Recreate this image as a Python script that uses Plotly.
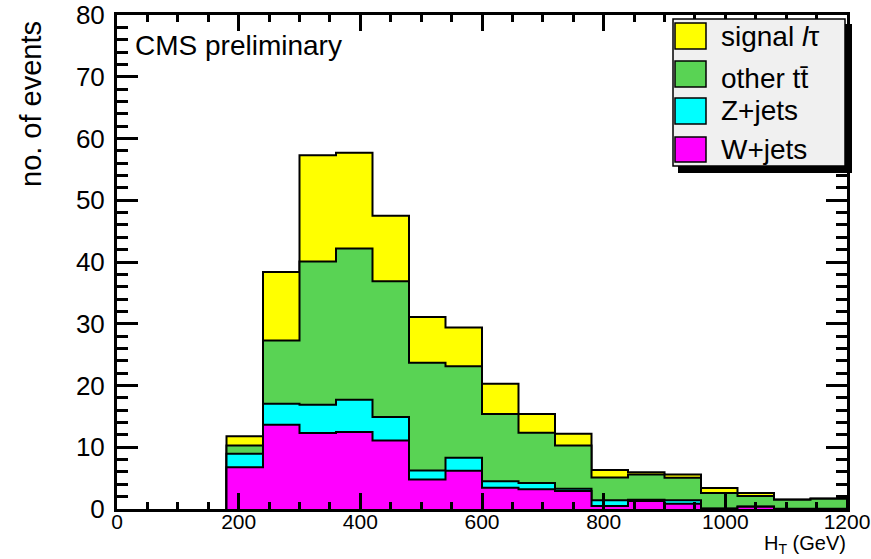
import plotly.graph_objects as go
import numpy as np

# ---- data (bin width 60 GeV, left edges 180 ... 1140) ----
bin_edges = [180, 240, 300, 360, 420, 480, 540, 600, 660, 720, 780, 840, 900, 960, 1020, 1080, 1140, 1200]
w_jets   = [6.77, 13.65, 12.30, 12.45, 11.10, 4.78, 6.19, 3.43, 3.20, 2.90, 0.50, 1.30, 0.85, 0.05, 0.35, 0.00, 0.00]
z_jets   = [2.18, 3.40, 4.60, 5.25, 3.80, 1.46, 2.11, 1.07, 1.00, 0.37, 0.90, 0.20, 0.55, 0.05, 0.05, 0.05, 0.05]
other_tt = [1.35, 10.25, 23.20, 24.50, 22.00, 17.46, 14.80, 10.90, 8.15, 7.03, 3.70, 4.10, 3.65, 2.50, 1.70, 1.45, 1.60]
signal   = [1.50, 11.10, 17.20, 15.50, 10.60, 7.40, 6.30, 4.90, 3.05, 1.90, 1.20, 0.35, 0.55, 0.80, 0.50, 0.05, 0.05]

names  = ["signal <i>l</i>τ", "other tt\u0304", "Z+jets", "W+jets"]
colors = ["#ffff00", "#59d354", "#00ffff", "#ff00ff"]

x_ticks = [0, 200, 400, 600, 800, 1000, 1200]
y_ticks = [0, 10, 20, 30, 40, 50, 60, 70, 80]

FONT = "Liberation Sans, Arial, Helvetica, sans-serif"

# cumulative stacks (bottom -> top): W, W+Z, W+Z+tt, total
layers_bottom_up = [w_jets, z_jets, other_tt, signal]
cum = np.cumsum(np.array(layers_bottom_up), axis=0)  # row i = top of layer i
stack_tops = [cum[3], cum[2], cum[1], cum[0]]          # signal, tt, Z, W (drawn in this order)

fig = go.Figure()
for top, col in zip(stack_tops, colors):
    xs = [bin_edges[0]] + list(bin_edges)
    ys = [0.0] + list(top) + [0.0]
    fig.add_trace(go.Scatter(
        x=xs, y=ys, mode="lines", line=dict(shape="hv", color="black", width=2),
        fill="tozeroy", fillcolor=col, showlegend=False, hoverinfo="skip"))

W, H = 871, 559
L, R, T, B = 117, 24, 15, 50
PW, PH = W - L - R, H - T - B


def px(p):
    return (p - L) / PW


def py(p):
    return (H - B - p) / PH


shapes = []
# legend shadow + box
shapes.append(dict(type="rect", xref="paper", yref="paper", x0=px(678), x1=px(852), y0=py(173), y1=py(24),
                   fillcolor="black", line=dict(width=0), layer="above"))
shapes.append(dict(type="rect", xref="paper", yref="paper", x0=px(673), x1=px(845), y0=py(166), y1=py(19),
                   fillcolor="#f0f0f0", line=dict(color="black", width=1.5), layer="above"))
box_rows = [(23, 49), (61, 87), (98, 124), (137, 162)]
text_y = [37, 78, 111, 149]
annotations = []
for (y0, y1), ty, nm, col in zip(box_rows, text_y, names, colors):
    shapes.append(dict(type="rect", xref="paper", yref="paper", x0=px(675), x1=px(706), y0=py(y1), y1=py(y0),
                       fillcolor=col, line=dict(color="black", width=1.5), layer="above"))
    annotations.append(dict(xref="paper", yref="paper", x=px(719), y=py(ty), text=nm, showarrow=False,
                            xanchor="left", yanchor="middle", font=dict(family=FONT, size=28, color="black")))

annotations.append(dict(xref="paper", yref="paper", x=px(133), y=py(45), text="CMS preliminary", showarrow=False,
                        xanchor="left", yanchor="middle", font=dict(family=FONT, size=28, color="black")))
annotations.append(dict(xref="paper", yref="paper", x=px(31), y=py(104), text="no. of events", showarrow=False,
                        textangle=-90, xanchor="center", yanchor="middle",
                        font=dict(family=FONT, size=29, color="black")))
annotations.append(dict(xref="paper", yref="paper", x=px(848), y=py(559), text="H<sub>T</sub> (GeV)", showarrow=False,
                        xanchor="right", yanchor="bottom", font=dict(family=FONT, size=20, color="black")))

fig.update_layout(
    width=W, height=H, margin=dict(l=L, r=R, t=T, b=B, autoexpand=False),
    paper_bgcolor="white", plot_bgcolor="white",
    shapes=shapes, annotations=annotations, showlegend=False,
    xaxis=dict(range=[0, 1200], tickvals=x_ticks, ticktext=[str(v) for v in x_ticks], automargin=False,
               showgrid=False, zeroline=False, showline=True, linecolor="black", linewidth=3,
               mirror="ticks", ticks="inside", ticklen=16, tickwidth=3, tickcolor="black",
               minor=dict(ticks="inside", ticklen=7, tickwidth=3, tickcolor="black", dtick=50, showgrid=False),
               tickfont=dict(family=FONT, size=21, color="black"), ticklabelstandoff=-8),
    yaxis=dict(range=[0, 80], tickvals=y_ticks, ticktext=[str(v) for v in y_ticks], automargin=False,
               showgrid=False, zeroline=False, showline=True, linecolor="black", linewidth=3,
               mirror="ticks", ticks="inside", ticklen=21, tickwidth=3, tickcolor="black",
               minor=dict(ticks="inside", ticklen=11, tickwidth=3, tickcolor="black", dtick=2, showgrid=False),
               tickfont=dict(family=FONT, size=26, color="black"), ticklabelstandoff=4),
)

fig.write_html("out.html")
